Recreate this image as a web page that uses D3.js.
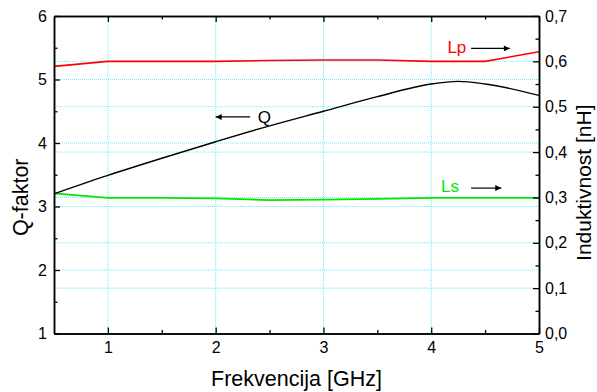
<!DOCTYPE html>
<html>
<head>
<meta charset="utf-8">
<script src="https://cdn.jsdelivr.net/npm/d3@7"></script>
<style>
  body { margin: 0; background: #fff; }
  text { font-family: "Liberation Sans", Arial, sans-serif; }
</style>
</head>
<body>
<div id="chart"></div>
<script>
// frequency points [GHz]
const freq = [0.5, 1, 1.5, 2, 2.5, 3, 3.5, 4, 4.25, 4.5, 5];
// Q factor (left axis)
const qValues = [3.2, 3.49, 3.76, 4.02, 4.27, 4.5, 4.73, 4.93, 4.97, 4.93, 4.75];
// Lp and Ls [nH] (right axis)
const lpValues = [0.589, 0.6, 0.6, 0.6, 0.602, 0.603, 0.603, 0.6, 0.6, 0.6, 0.621];
const lsValues = [0.309, 0.299, 0.299, 0.298, 0.294, 0.295, 0.297, 0.299, 0.299, 0.299, 0.299];

const xTicks = [1, 2, 3, 4, 5];
const xMinor = [1.5, 2.5, 3.5, 4.5];
const qTicks = [1, 2, 3, 4, 5, 6];
const qMinor = [1.5, 2.5, 3.5, 4.5, 5.5];
const lTicks = [0, 0.1, 0.2, 0.3, 0.4, 0.5, 0.6, 0.7];
const lMinor = [0.05, 0.15, 0.25, 0.35, 0.45, 0.55, 0.65];

const margin = {top: 16, right: 58, bottom: 58.5, left: 54},
      width = 597 - margin.left - margin.right,
      height = 392 - margin.top - margin.bottom;

const svg = d3.select('#chart')
  .append('svg')
  .attr('width', 597)
  .attr('height', 392)
  .append('g')
  .attr('transform', 'translate(' + margin.left + ',' + margin.top + ')');

const x = d3.scaleLinear().domain([0.5, 5]).range([0, width]);
const yQ = d3.scaleLinear().domain([1, 6]).range([height, 0]);
const yL = d3.scaleLinear().domain([0, 0.7]).range([height, 0]);

const comma = d3.formatLocale({decimal: ',', thousands: '.', grouping: [3], currency: ['', '']});
const fmtL = comma.format('.1f');

// grid
const grid = svg.append('g').attr('class', 'grid')
  .attr('stroke', '#5ff0ff').attr('stroke-width', 1).attr('stroke-dasharray', '1,1');

grid.selectAll('.vg').data(xTicks.filter(d => d < 5)).enter()
  .append('line')
  .attr('x1', d => x(d)).attr('x2', d => x(d))
  .attr('y1', 0).attr('y2', height);

grid.selectAll('.hq').data(qTicks.filter(d => d > 1 && d < 6)).enter()
  .append('line')
  .attr('x1', 0).attr('x2', width)
  .attr('y1', d => yQ(d)).attr('y2', d => yQ(d));

grid.selectAll('.hl').data(lTicks.filter(d => d > 0 && d < 0.7)).enter()
  .append('line')
  .attr('x1', 0).attr('x2', width)
  .attr('y1', d => yL(d)).attr('y2', d => yL(d));

// lines
const lineQ = d3.line().x((d, i) => x(freq[i])).y(d => yQ(d)).curve(d3.curveMonotoneX);
const lineL = d3.line().x((d, i) => x(freq[i])).y(d => yL(d));

svg.append('path').attr('d', lineL(lsValues))
  .attr('fill', 'none').attr('stroke', '#00e800').attr('stroke-width', 1.7);
svg.append('path').attr('d', lineL(lpValues))
  .attr('fill', 'none').attr('stroke', '#ff0000').attr('stroke-width', 1.6);
svg.append('path').attr('d', lineQ(qValues))
  .attr('fill', 'none').attr('stroke', '#000').attr('stroke-width', 1.4);

// axes
const tickFont = 16;

const styleAxis = (g) => {
  g.select('.domain').attr('stroke', '#000').attr('stroke-width', 1.5);
  g.selectAll('.tick line').attr('stroke', '#000').attr('stroke-width', 1.3);
  g.selectAll('.tick text').attr('fill', '#000').style('font-size', tickFont + 'px')
    .style('font-family', '"Liberation Sans", Arial, sans-serif');
};

svg.append('g').attr('transform', 'translate(0,' + height + ')')
  .call(d3.axisBottom(x).tickValues(xTicks).tickSizeInner(-6).tickSizeOuter(0).tickPadding(8).tickFormat(d3.format('d')))
  .call(styleAxis);
svg.append('g').attr('transform', 'translate(0,' + height + ')')
  .call(d3.axisBottom(x).tickValues(xMinor).tickSizeInner(-3.5).tickSizeOuter(0).tickFormat(''))
  .call(styleAxis);

svg.append('g')
  .call(d3.axisTop(x).tickValues(xTicks).tickSizeInner(-6).tickSizeOuter(0).tickFormat(''))
  .call(styleAxis);
svg.append('g')
  .call(d3.axisTop(x).tickValues(xMinor).tickSizeInner(-3.5).tickSizeOuter(0).tickFormat(''))
  .call(styleAxis);

svg.append('g')
  .call(d3.axisLeft(yQ).tickValues(qTicks).tickSizeInner(-6).tickSizeOuter(0).tickPadding(7).tickFormat(d3.format('d')))
  .call(styleAxis);
svg.append('g')
  .call(d3.axisLeft(yQ).tickValues(qMinor).tickSizeInner(-3.5).tickSizeOuter(0).tickFormat(''))
  .call(styleAxis);

svg.append('g').attr('transform', 'translate(' + width + ',0)')
  .call(d3.axisRight(yL).tickValues(lTicks).tickSizeInner(-6).tickSizeOuter(0).tickPadding(6).tickFormat(fmtL))
  .call(styleAxis);
svg.append('g').attr('transform', 'translate(' + width + ',0)')
  .call(d3.axisRight(yL).tickValues(lMinor).tickSizeInner(-3.5).tickSizeOuter(0).tickFormat(''))
  .call(styleAxis);

// axis titles
svg.append('text')
  .attr('x', width / 2).attr('y', height + 52)
  .attr('text-anchor', 'middle')
  .style('font-size', '21.5px')
  .text('Frekvencija [GHz]');

svg.append('text')
  .attr('transform', 'translate(-26,' + (yQ(3.145)) + ') rotate(-90)')
  .attr('text-anchor', 'middle')
  .style('font-size', '21.5px')
  .text('Q-faktor');

svg.append('text')
  .attr('transform', 'translate(' + (width + 52) + ',' + (yL(0.3325)) + ') rotate(-90)')
  .attr('text-anchor', 'middle')
  .style('font-size', '21px')
  .text('Induktivnost [nH]');

// annotations
const defs = svg.append('defs');
defs.append('marker')
  .attr('id', 'head')
  .attr('viewBox', '0 0 10 10')
  .attr('refX', 10).attr('refY', 5)
  .attr('markerWidth', 9).attr('markerHeight', 6)
  .attr('markerUnits', 'userSpaceOnUse')
  .attr('orient', 'auto')
  .append('path').attr('d', 'M0,0 L10,5 L0,10 Z').attr('fill', '#000');

const arrow = (x1, y1, x2, y2) => svg.append('line')
  .attr('x1', x(x1)).attr('y1', yQ(y1)).attr('x2', x(x2)).attr('y2', yQ(y2))
  .attr('stroke', '#000').attr('stroke-width', 1.2)
  .attr('marker-end', 'url(#head)');

arrow(2.32, 4.41, 2.0, 4.41);
svg.append('text').attr('x', x(2.39)).attr('y', yQ(4.41) + 6)
  .style('font-size', '17px').attr('fill', '#000').text('Q');

arrow(4.37, 5.49, 4.73, 5.49);
svg.append('text').attr('x', x(4.15)).attr('y', yQ(5.416))
  .style('font-size', '17px').attr('fill', '#ff0000').text('Lp');

arrow(4.37, 3.29, 4.65, 3.29);
svg.append('text').attr('x', x(4.09)).attr('y', yQ(3.224))
  .style('font-size', '17px').attr('fill', '#00e800').text('Ls');
</script>
</body>
</html>
